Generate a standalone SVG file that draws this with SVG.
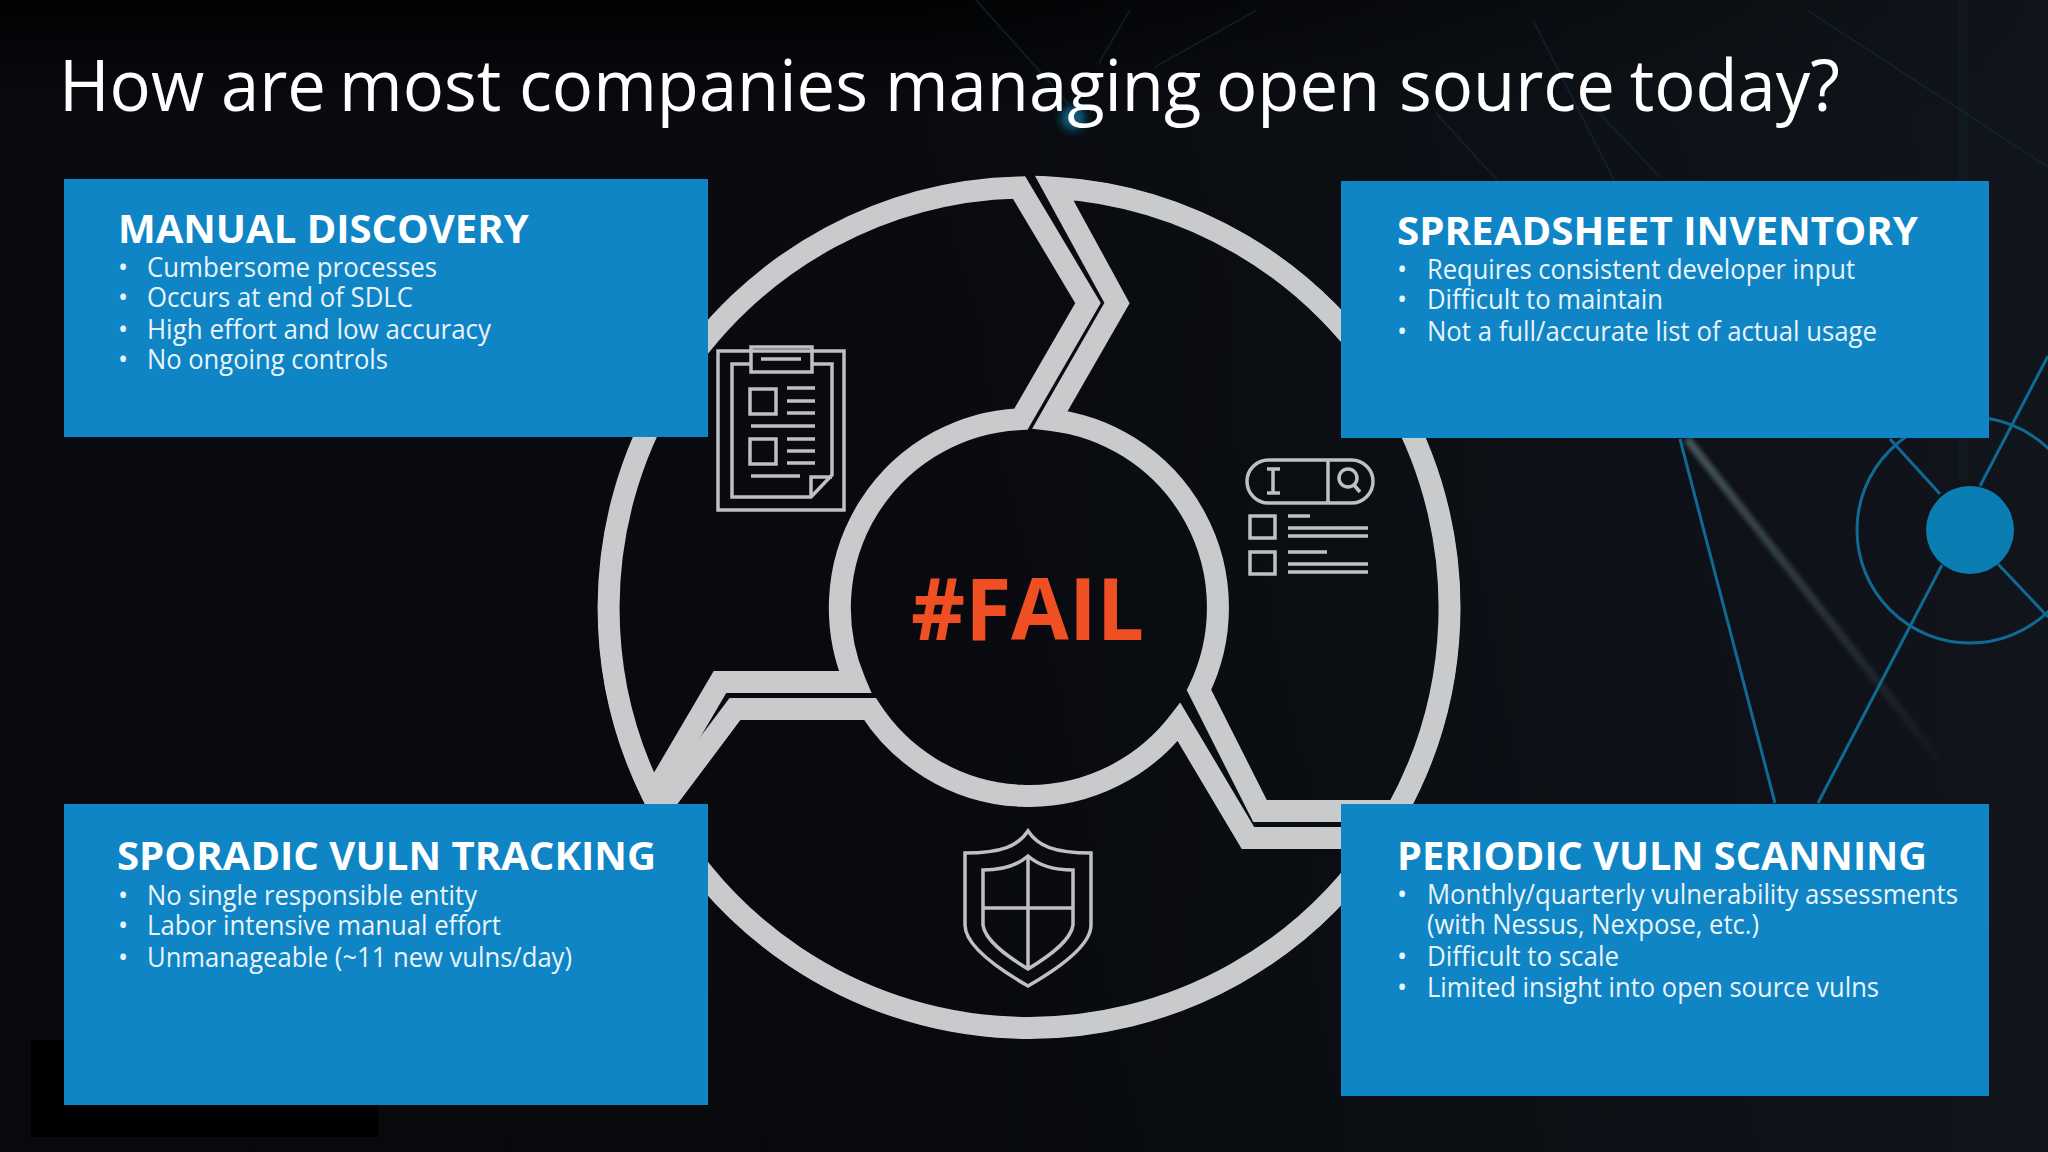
<svg xmlns="http://www.w3.org/2000/svg" width="2048" height="1152" viewBox="0 0 2048 1152">
<defs>
<linearGradient id="bg" x1="0" y1="0" x2="0" y2="1"><stop offset="0" stop-color="#010203"/><stop offset="0.1" stop-color="#090b10"/><stop offset="1" stop-color="#07090d"/></linearGradient>
<linearGradient id="bgr" x1="0" y1="0" x2="1" y2="0"><stop offset="0.45" stop-color="#10141a" stop-opacity="0"/><stop offset="1" stop-color="#12161d" stop-opacity="0.9"/></linearGradient>
<linearGradient id="streak" x1="1687" y1="439" x2="1950" y2="774" gradientUnits="userSpaceOnUse"><stop offset="0" stop-color="#46555d"/><stop offset="1" stop-color="#46555d" stop-opacity="0"/></linearGradient>
<filter id="soft" x="-20%" y="-20%" width="140%" height="140%"><feGaussianBlur stdDeviation="2"/></filter>
<filter id="soft2" x="-50%" y="-50%" width="200%" height="200%"><feGaussianBlur stdDeviation="4"/></filter>
<clipPath id="ringclip"><circle cx="1029" cy="607.5" r="432"/></clipPath>
</defs>
<style>
.box{fill:#0f85c6}
.h{font-family:"Open Sans","Noto Sans",sans-serif;font-weight:700;font-size:40px;fill:#fff}
.b{font-family:"Open Sans","Noto Sans",sans-serif;font-size:27px;fill:#eaf4fa}
.ring{fill:none;stroke:#c9cacb;stroke-width:22;stroke-linejoin:miter;stroke-miterlimit:10}
.ic{fill:none;stroke:#bfc0c2;stroke-width:3.5}
.bl{stroke:#0f6a94;stroke-width:3;fill:none}
.fl{stroke:#0f2f3e;stroke-width:2;fill:none;opacity:.55}
</style>
<rect width="2048" height="1152" fill="url(#bg)"/>
<rect width="2048" height="1152" fill="url(#bgr)"/>
<rect x="31" y="1040" width="347" height="97" fill="#000"/>
<g id="background">
<rect x="1958" y="0" width="10" height="480" fill="#16242c" opacity="0.3"/>
<path class="fl" d="M1807 10L2048 167M1599 113L1660 177M1533 20L1614 180M1436 113L1497 180M976 0L1068 103M1130 10L1099 63M1257 10L1155 67"/>
<circle cx="1073" cy="118" r="12" fill="#0a5f80" filter="url(#soft2)"/>
<line x1="1687" y1="439" x2="1950" y2="774" stroke="url(#streak)" stroke-width="8" filter="url(#soft)"/>
<circle class="bl" cx="1970" cy="530" r="113"/>
<path class="bl" d="M1940 494L1890 439M1980 486L2048 356M1942 565L1818 803M1998 564L2048 617M1680 439L1775 803"/>
<ellipse cx="1970" cy="530" rx="44" ry="44" fill="#0a7db2"/>
</g>
<g id="title"><text y="111" transform="scale(.955 1)" font-family="'Open Sans','Noto Sans',sans-serif" font-size="72" fill="#fff"><tspan x="61.7">How</tspan> <tspan x="231.4">are</tspan> <tspan x="355">most</tspan> <tspan x="543.4">companies</tspan> <tspan x="926.7">managing</tspan> <tspan x="1273.3">open</tspan> <tspan x="1464.9">source</tspan> <tspan x="1706.5">today?</tspan></text></g>
<g id="ring" clip-path="url(#ringclip)">
<path class="ring" d="M653 796L720 682H855A189 189 0 0 1 1021 419L1088 303L1019 187.5A420.5 420.5 0 0 0 653 796Z"/>
<path class="ring" d="M1054 187.7L1117 303L1050 419.7A189 189 0 0 1 1199 690L1260 811H1397A420.5 420.5 0 0 0 1054 187.7Z"/>
<path class="ring" d="M660 809L735 709H870A189 189 0 0 0 1179 722L1248 838H1380.7A420.5 420.5 0 0 1 660 809Z"/>
</g>
<g id="fail"><text x="911" y="640" textLength="233" lengthAdjust="spacingAndGlyphs" font-family="'Open Sans','Noto Sans',sans-serif" font-weight="700" font-size="86" fill="#f04e23">#FAIL</text></g>
<g id="icon-clipboard" class="ic">
<rect x="718" y="351" width="126" height="159"/>
<path d="M750 364H732V497H811L832 475V364H812"/>
<rect x="751" y="347" width="61" height="25"/>
<path d="M761 359H801M787 388H815M787 401H815M787 413H815M751 426H815M787 439H815M787 451H815M787 463H815M751 476H800M811 497V477H832"/>
<rect x="750" y="389" width="26" height="25"/>
<rect x="750" y="439" width="26" height="25"/>
</g>
<g id="icon-search" class="ic">
<rect x="1247" y="460" width="126" height="43" rx="21.5"/>
<path d="M1328 460V503M1267 469H1280M1267 493H1280M1273 469V493"/>
<circle cx="1348" cy="478" r="9"/>
<path d="M1354 485L1360 492M1288 516H1310M1288 528H1368M1288 536H1368M1288 552H1327M1288 564H1368M1288 572H1368"/>
<rect x="1250" y="516" width="25" height="22"/>
<rect x="1250" y="552" width="25" height="22"/>
</g>
<g id="icon-shield" class="ic">
<path d="M1028 831C1018 846 1002 853 965 853V925C965 945 995 967 1028 986C1061 967 1091 945 1091 925V853C1054 853 1038 846 1028 831Z"/>
<path d="M1028 856C1020 863 1005 870 983 870V925C985 940 1005 955 1028 969C1051 955 1071 940 1073 925V870C1051 870 1036 863 1028 856ZM1028 856V969M983 908H1073"/>
</g>
<g id="node-manual">
<rect class="box" x="64" y="179" width="644" height="258"/>
<text class="h" x="118" y="243">MANUAL DISCOVERY</text>
<g class="b"><text x="118" y="277">•</text><text x="147" y="277" textLength="290" lengthAdjust="spacingAndGlyphs">Cumbersome processes</text><text x="118" y="307">•</text><text x="147" y="307" textLength="266" lengthAdjust="spacingAndGlyphs">Occurs at end of SDLC</text><text x="118" y="339">•</text><text x="147" y="339" textLength="344" lengthAdjust="spacingAndGlyphs">High effort and low accuracy</text><text x="118" y="369">•</text><text x="147" y="369" textLength="241" lengthAdjust="spacingAndGlyphs">No ongoing controls</text></g>
</g>
<g id="node-spreadsheet">
<rect class="box" x="1341" y="181" width="648" height="257"/>
<text class="h" x="1397" y="245" textLength="521" lengthAdjust="spacingAndGlyphs">SPREADSHEET INVENTORY</text>
<g class="b"><text x="1397" y="279">•</text><text x="1427" y="279" textLength="428" lengthAdjust="spacingAndGlyphs">Requires consistent developer input</text><text x="1397" y="309">•</text><text x="1427" y="309" textLength="236" lengthAdjust="spacingAndGlyphs">Difficult to maintain</text><text x="1397" y="341">•</text><text x="1427" y="341" textLength="450" lengthAdjust="spacingAndGlyphs">Not a full/accurate list of actual usage</text></g>
</g>
<g id="node-sporadic">
<rect class="box" x="64" y="804" width="644" height="301"/>
<text class="h" x="117" y="870" textLength="539" lengthAdjust="spacingAndGlyphs">SPORADIC VULN TRACKING</text>
<g class="b"><text x="118" y="905">•</text><text x="147" y="905" textLength="330" lengthAdjust="spacingAndGlyphs">No single responsible entity</text><text x="118" y="935">•</text><text x="147" y="935" textLength="354" lengthAdjust="spacingAndGlyphs">Labor intensive manual effort</text><text x="118" y="967">•</text><text x="147" y="967" textLength="425" lengthAdjust="spacingAndGlyphs">Unmanageable (~11 new vulns/day)</text></g>
</g>
<g id="node-periodic">
<rect class="box" x="1341" y="804" width="648" height="292"/>
<text class="h" x="1397" y="870" textLength="530" lengthAdjust="spacingAndGlyphs">PERIODIC VULN SCANNING</text>
<g class="b"><text x="1397" y="904">•</text><text x="1427" y="904" textLength="531" lengthAdjust="spacingAndGlyphs">Monthly/quarterly vulnerability assessments</text><text x="1427" y="934" textLength="332" lengthAdjust="spacingAndGlyphs">(with Nessus, Nexpose, etc.)</text><text x="1397" y="966">•</text><text x="1427" y="966" textLength="192" lengthAdjust="spacingAndGlyphs">Difficult to scale</text><text x="1397" y="997">•</text><text x="1427" y="997" textLength="452" lengthAdjust="spacingAndGlyphs">Limited insight into open source vulns</text></g>
</g>
</svg>
